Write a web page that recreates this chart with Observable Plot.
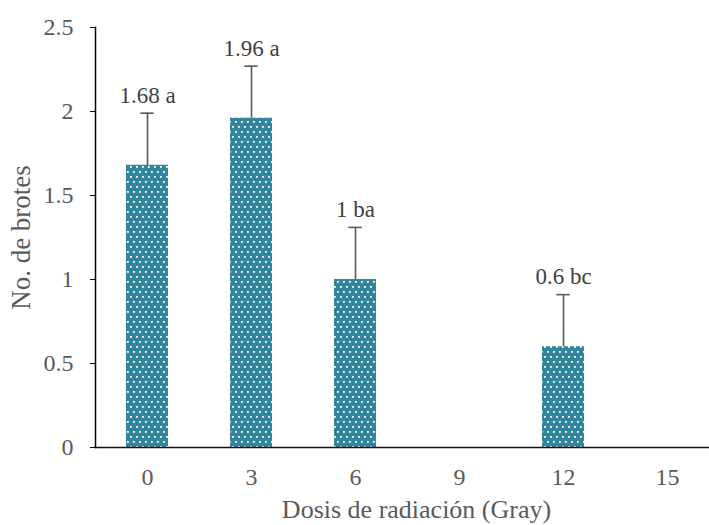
<!DOCTYPE html>
<html>
<head>
<meta charset="utf-8">
<script src="https://cdn.jsdelivr.net/npm/d3@7"></script>
<script src="https://cdn.jsdelivr.net/npm/@observablehq/plot@0.6"></script>
<style>
  html, body { margin: 0; padding: 0; background: #fff; }
  #chart svg, #chart svg text { font-family: "Liberation Serif", "Times New Roman", serif !important; }
</style>
</head>
<body>
<div id="chart"></div>
<script>
const doses = ["0", "3", "6", "9", "12", "15"];
const means = [1.68, 1.96, 1.0, null, 0.6, null];
const errors = [0.31, 0.31, 0.31, null, 0.31, null];
const labels = ["1.68 a", "1.96 a", "1 ba", "", "0.6 bc", ""];
const yTicks = [0, 0.5, 1, 1.5, 2, 2.5];

const data = doses.map((d, i) => ({dose: d, mean: means[i], err: errors[i], label: labels[i]}))
  .filter(d => d.mean != null);

const grey = "#595959";

const chart = Plot.plot({
  width: 709,
  height: 525,
  marginLeft: 95,
  marginRight: 0,
  marginTop: 27,
  marginBottom: 78,
  style: {background: "#fff"},
  x: {domain: doses, range: [95, 719], paddingInner: 0.6, paddingOuter: 0.3},
  y: {domain: [0, 2.5]},
  marks: [
    Plot.barY(data, {x: "dose", y: "mean", fill: "url(#dots)"}),
    Plot.ruleX(data, {x: "dose", y1: "mean", y2: d => d.mean + d.err, stroke: grey, strokeWidth: 1.6}),
    Plot.tickY(data, {x: "dose", y: d => d.mean + d.err, stroke: grey, strokeWidth: 1.6, insetLeft: 14.3, insetRight: 14.3}),
    Plot.text(data, {x: "dose", y: d => d.mean + d.err, text: "label", dy: -18, fontSize: 23, fill: "#404040"}),
    Plot.axisY({ticks: yTicks, tickFormat: d => String(d), tickSize: 5, tickPadding: 17, fontSize: 24, color: grey, stroke: "#000", label: null}),
    Plot.axisX({tickSize: 0, tickPadding: 20, fontSize: 24, color: grey, label: null}),
    Plot.frame({anchor: "left", stroke: "#000", strokeWidth: 1.5}),
    Plot.frame({anchor: "bottom", stroke: "#111", strokeWidth: 1.5}),
    Plot.text(["Dosis de radiación (Gray)"], {frameAnchor: "bottom", lineAnchor: "middle", textAnchor: "middle", dx: 14, dy: 62, fontSize: 26, fill: grey}),
    Plot.text(["No. de brotes"], {frameAnchor: "left", lineAnchor: "middle", textAnchor: "middle", dx: -74, rotate: -90, fontSize: 27, fill: grey})
  ]
});

const svg = d3.select(chart);
const defs = svg.insert("defs", ":first-child");
const pat = defs.append("pattern")
  .attr("id", "dots")
  .attr("patternUnits", "userSpaceOnUse")
  .attr("width", 6)
  .attr("height", 10);
pat.append("rect").attr("width", 6).attr("height", 10).attr("fill", "#31859C");
pat.append("rect").attr("x", 1).attr("y", 1).attr("width", 1.8).attr("height", 1.8).attr("fill", "#fff");
pat.append("rect").attr("x", 4).attr("y", 6).attr("width", 1.8).attr("height", 1.8).attr("fill", "#fff");

document.getElementById("chart").appendChild(chart);
</script>
</body>
</html>
